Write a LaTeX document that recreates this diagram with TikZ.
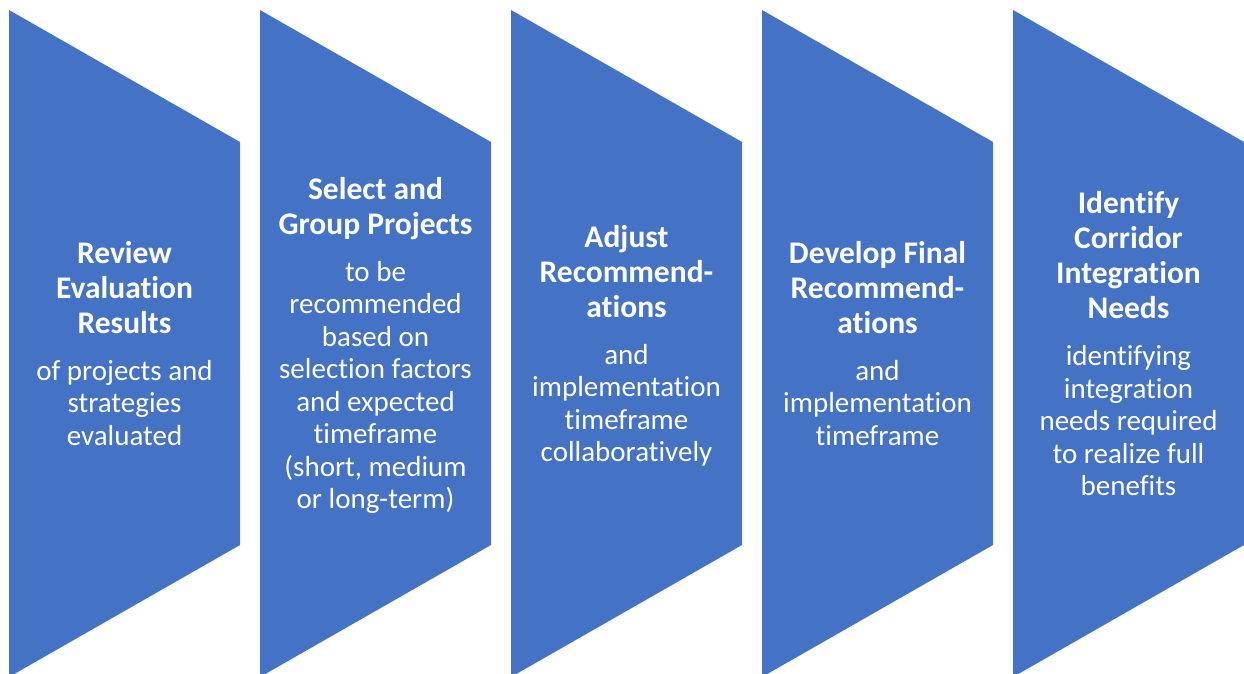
\documentclass[tikz,border=0pt]{standalone}
\usepackage{fontspec}
\setmainfont{Carlito}[Ligatures={NoCommon,NoContextual}]
\definecolor{stageblue}{HTML}{4472C4}
\newcommand{\stagetext}[2]{\begin{minipage}{228pt}\centering\color{white}%
{\fontsize{31.5}{35}\selectfont\bfseries #1\par}\vspace{14.5pt}%
{\fontsize{29}{32.5}\selectfont #2\par}\end{minipage}}
\tikzset{
  stageshape/.style={fill=stageblue, draw=none},
  stagelabel/.style={inner sep=0pt, anchor=center}
}
\begin{document}
\begin{tikzpicture}[x=1pt,y=-1pt]
\useasboundingbox (0,0) rectangle (1244,673);
\foreach \i in {0,...,4}{
  \pgfmathsetmacro{\L}{9+251*\i}
  \fill[stageshape] (\L,10) -- (\L+231,142) -- (\L+231,545) -- (\L,677) -- cycle;
}
\node[stagelabel] (s1) at (124.5,343.5) {\stagetext{Review\\Evaluation\\Results}{of projects and\\strategies\\evaluated}};
\node[stagelabel] (s2) at (375.5,345.5) {\stagetext{Select and\\Group Projects}{to be\\recommended\\based on\\selection factors\\and expected\\timeframe\\(short, medium\\or long-term)}};
\node[stagelabel] (s3) at (626.5,346) {\stagetext{Adjust\\Recommend-\\ations}{and\\implementation\\timeframe\\collaboratively}};
\node[stagelabel] (s4) at (877.5,343.5) {\stagetext{Develop Final\\Recommend-\\ations}{and\\implementation\\timeframe}};
\node[stagelabel] (s5) at (1128.5,344) {\stagetext{Identify\\Corridor\\Integration\\Needs}{identifying\\integration\\needs required\\to realize full\\benefits}};
\end{tikzpicture}
\end{document}
